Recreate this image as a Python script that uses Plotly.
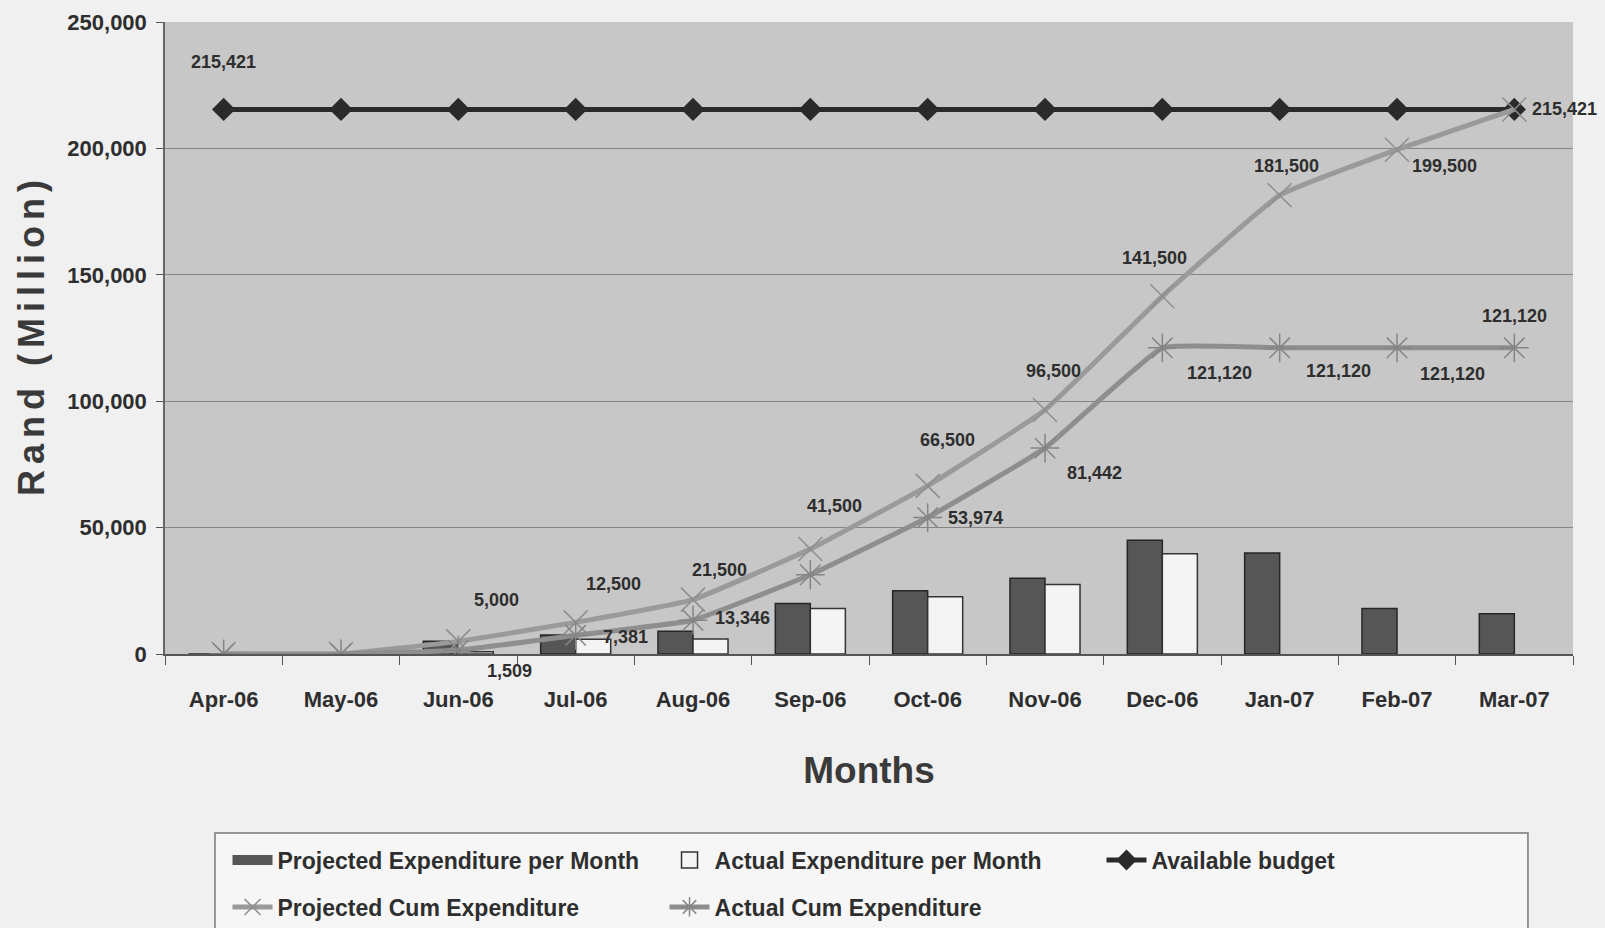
import plotly.graph_objects as go

months = ["Apr-06", "May-06", "Jun-06", "Jul-06", "Aug-06", "Sep-06",
          "Oct-06", "Nov-06", "Dec-06", "Jan-07", "Feb-07", "Mar-07"]
projected_month = [0, 0, 5000, 7500, 9000, 20000, 25000, 30000, 45000, 40000, 18000, 15921]
actual_month = [300, 300, 909, 5872, 5965, 18000, 22628, 27468, 39678, None, None, None]
budget = [215421] * 12
projected_cum = [0, 0, 5000, 12500, 21500, 41500, 66500, 96500, 141500, 181500, 199500, 215421]
actual_cum = [0, 0, 1509, 7381, 13346, 31346, 53974, 81442, 121120, 121120, 121120, 121120]

# label offsets (pixels) relative to each point; None = no label
proj_shift = [None, None, (38, 41), (38, 38), (26, 30), (24, 43), (20, 46), (8, 39),
              (-8, 38), (7, 29), (47, -16), None]
act_shift = [None, None, (51, -21), (50, -2), (49, 2), None, (48, 0), (49, -25),
             (57, -25), (59, -23), (55, -26), (0, 32)]

NARROW = "Liberation Sans Narrow, Arial Narrow, Liberation Sans, Arial"
SANS = "Liberation Sans, Arial"
TXT = "#2e2e2e"
LBL = dict(family=NARROW, size=18, color=TXT, weight="bold")
PROJ_BAR = "#565656"
ACT_BAR = "#f4f4f4"

fig = go.Figure()
fig.add_trace(go.Bar(x=months, y=projected_month, name="Projected Expenditure per Month",
                     marker=dict(color=PROJ_BAR, line=dict(color="#262626", width=1.5)),
                     showlegend=False))
fig.add_trace(go.Bar(x=months, y=actual_month, name="Actual Expenditure per Month",
                     marker=dict(color=ACT_BAR, line=dict(color="#333333", width=1.5)),
                     showlegend=False))
# legend keys for the bars (no marks drawn)
fig.add_trace(go.Scatter(x=[None], y=[None], mode="lines", name="Projected Expenditure per Month",
                         line=dict(color=PROJ_BAR, width=16), legend="legend", hoverinfo="skip"))
fig.add_trace(go.Scatter(x=[None], y=[None], mode="markers", name="Actual Expenditure per Month",
                         marker=dict(symbol="square", size=16, color=ACT_BAR,
                                     line=dict(color="#333333", width=1.5)),
                         legend="legend", hoverinfo="skip"))
fig.add_trace(go.Scatter(x=months, y=budget, name="Available budget", mode="lines+markers",
                         line=dict(color="#2a2a2a", width=5),
                         marker=dict(symbol="diamond", size=18, color="#2a2a2a"),
                         legend="legend"))
fig.add_trace(go.Scatter(x=months, y=projected_cum, name="Projected Cum Expenditure",
                         mode="lines+markers",
                         line=dict(color="#9a9a9a", width=5, shape="spline", smoothing=0.3),
                         marker=dict(symbol="x-thin", size=24, line=dict(color="#8e8e8e", width=1.5)),
                         legend="legend2"))
fig.add_trace(go.Scatter(x=months, y=actual_cum, name="Actual Cum Expenditure",
                         mode="lines+markers",
                         line=dict(color="#8e8e8e", width=5, shape="spline", smoothing=0.3),
                         marker=dict(symbol="asterisk", size=24, line=dict(color="#858585", width=1.5)),
                         legend="legend2"))

ann = []
for m, v, s in zip(months, projected_cum, proj_shift):
    if s:
        ann.append(dict(x=m, y=v, text=f"{v:,}", showarrow=False, xshift=s[0], yshift=s[1], font=LBL))
for m, v, s in zip(months, actual_cum, act_shift):
    if s:
        ann.append(dict(x=m, y=v, text=f"{v:,}", showarrow=False, xshift=s[0], yshift=s[1], font=LBL))
ann.append(dict(x=months[0], y=budget[0], text=f"{budget[0]:,}", showarrow=False, yshift=47, font=LBL))
ann.append(dict(x=months[-1], y=budget[-1], text=f"{budget[-1]:,}", showarrow=False,
                xanchor="left", xshift=16, font=LBL))

ytitle = "\u2006".join("Rand (Million)")

fig.update_layout(
    width=1605, height=928,
    margin=dict(l=165, r=32, t=22, b=274, autoexpand=False),
    paper_bgcolor="#f0f0f0",
    plot_bgcolor="#c7c7c7",
    barmode="group", bargap=0.403, bargroupgap=0.0,
    font=dict(family=NARROW, color=TXT, size=18),
    showlegend=True,
    annotations=ann,
    shapes=[dict(type="rect", xref="paper", yref="paper", x0=0.0355, x1=0.968, y0=-0.2832, y1=-0.46,
                 line=dict(color="#777777", width=1.5), fillcolor="#f6f6f6", layer="below")],
    legend=dict(orientation="h", x=0.0444, y=-0.326, xanchor="left", yanchor="middle",
                bgcolor="rgba(0,0,0,0)", borderwidth=0,
                entrywidth=382, entrywidthmode="pixels", itemwidth=40,
                font=dict(family=NARROW, size=23, color=TXT, weight="bold")),
    legend2=dict(orientation="h", x=0.0444, y=-0.4003, xanchor="left", yanchor="middle",
                 bgcolor="rgba(0,0,0,0)", borderwidth=0,
                 entrywidth=382, entrywidthmode="pixels", itemwidth=40,
                 font=dict(family=NARROW, size=23, color=TXT, weight="bold")),
    xaxis=dict(title=dict(text="Months", font=dict(family=SANS, size=37, color="#3a3a3a", weight="bold"), standoff=46),
               range=[-0.5, 11.5], autorange=False,
               showline=True, linecolor="#555555", linewidth=1.5,
               ticks="outside", ticklen=9, tickcolor="#555555", tickson="boundaries",
               ticklabelstandoff=25,
               tickfont=dict(family=NARROW, size=22, color=TXT, weight="bold"),
               showgrid=False),
    yaxis=dict(title=dict(text=ytitle, font=dict(family=SANS, size=36, color="#3a3a3a", weight="bold"), standoff=12),
               range=[0, 250000], dtick=50000, tickformat=",",
               showline=True, linecolor="#666666", linewidth=1.5,
               ticks="outside", ticklen=7, tickcolor="#555555", ticklabelstandoff=5,
               gridcolor="#858585", gridwidth=1,
               tickfont=dict(family=SANS, size=22, color=TXT, weight="bold"),
               zeroline=False),
)

fig.write_html("out.html", config={"displayModeBar": False},
               post_script="document.body.style.margin='0';document.body.style.background='#f0f0f0';")
